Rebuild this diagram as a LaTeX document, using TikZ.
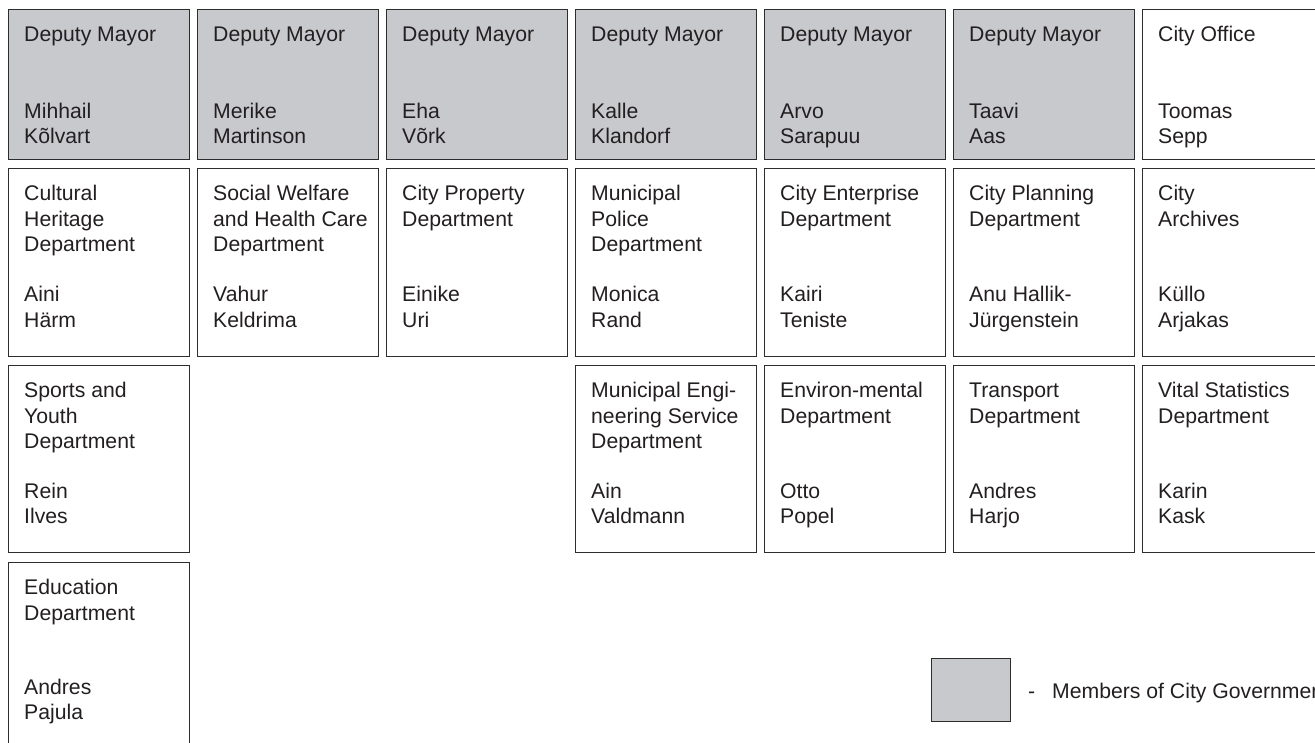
\documentclass[tikz,border=0pt]{standalone}
\usepackage{fontspec}
\setmainfont{Liberation Sans}
\usetikzlibrary{calc}
\definecolor{boxgray}{RGB}{200,201,204}
\definecolor{ink}{RGB}{35,31,32}
\definecolor{edge}{RGB}{45,45,45}
\tikzset{
  orgcell/.style={draw=edge, line width=1.3pt, anchor=north west, inner sep=0pt, minimum width=181pt},
  govcell/.style={orgcell, fill=boxgray},
  plaincell/.style={orgcell, fill=white},
  txt/.style={anchor=north west, inner sep=0pt, align=left, text=ink, font=\fontsize{21.2}{25.5}\selectfont}
}
% #1 name, #2 column, #3 top, #4 height, #5 style, #6 title, #7 person, #8 baseline offset of person
\newcommand\orgcellbox[8]{%
  \node[#5, minimum height=#4pt] (#1) at ({8+189*#2},#3) {};
  \node[txt] (#1-t) at ($(#1.north west)+(16,14.5)$) {\rule{0pt}{18pt}#6};
  \node[txt] (#1-n) at ($(#1.north west)+(16,{#8-18})$) {\rule{0pt}{18pt}#7};
}
\begin{document}
\begin{tikzpicture}[x=1pt,y=-1pt]
\useasboundingbox (0,0) rectangle (1315,743);
\clip (0,0) rectangle (1315,743);
% Row 1
\orgcellbox{dm1}{0}{9}{150}{govcell}{Deputy Mayor}{Mihhail\\Kõlvart}{109}
\orgcellbox{dm2}{1}{9}{150}{govcell}{Deputy Mayor}{Merike\\Martinson}{109}
\orgcellbox{dm3}{2}{9}{150}{govcell}{Deputy Mayor}{Eha\\Võrk}{109}
\orgcellbox{dm4}{3}{9}{150}{govcell}{Deputy Mayor}{Kalle\\Klandorf}{109}
\orgcellbox{dm5}{4}{9}{150}{govcell}{Deputy Mayor}{Arvo\\Sarapuu}{109}
\orgcellbox{dm6}{5}{9}{150}{govcell}{Deputy Mayor}{Taavi\\Aas}{109}
\orgcellbox{co}{6}{9}{150}{plaincell}{City Office}{Toomas\\Sepp}{109}
% Row 2
\orgcellbox{ch}{0}{168}{188}{plaincell}{Cultural\\Heritage\\Department}{Aini\\Härm}{133.5}
\orgcellbox{sw}{1}{168}{188}{plaincell}{Social Welfare\\and Health Care\\Department}{Vahur\\Keldrima}{133.5}
\orgcellbox{cp}{2}{168}{188}{plaincell}{City Property\\Department}{Einike\\Uri}{133.5}
\orgcellbox{mp}{3}{168}{188}{plaincell}{Municipal\\Police\\Department}{Monica\\Rand}{133.5}
\orgcellbox{ce}{4}{168}{188}{plaincell}{City Enterprise\\Department}{Kairi\\Teniste}{133.5}
\orgcellbox{cpl}{5}{168}{188}{plaincell}{City Planning\\Department}{Anu Hallik-\\Jürgenstein}{133.5}
\orgcellbox{ca}{6}{168}{188}{plaincell}{City\\Archives}{Küllo\\Arjakas}{133.5}
% Row 3
\orgcellbox{sy}{0}{365}{187}{plaincell}{Sports and\\Youth\\Department}{Rein\\Ilves}{133}
\orgcellbox{me}{3}{365}{187}{plaincell}{Municipal Engi-\\neering Service\\Department}{Ain\\Valdmann}{133}
\orgcellbox{en}{4}{365}{187}{plaincell}{Environ-mental\\Department}{Otto\\Popel}{133}
\orgcellbox{tr}{5}{365}{187}{plaincell}{Transport\\Department}{Andres\\Harjo}{133}
\orgcellbox{vs}{6}{365}{187}{plaincell}{Vital Statistics\\Department}{Karin\\Kask}{133}
% Row 4
\orgcellbox{ed}{0}{562}{188}{plaincell}{Education\\Department}{Andres\\Pajula}{132}
% Legend
\node[draw=edge, line width=1.3pt, fill=boxgray, anchor=north west, inner sep=0pt, minimum width=79pt, minimum height=63pt] (leg) at (931,658) {};
\node[anchor=base west, inner sep=0pt, text=ink, font=\fontsize{21.2}{25.5}\selectfont] (legdash) at (1028,698) {-};
\node[anchor=base west, inner sep=0pt, text=ink, font=\fontsize{21.2}{25.5}\selectfont] (legtxt) at (1052,698) {Members of City Government};
\end{tikzpicture}
\end{document}
